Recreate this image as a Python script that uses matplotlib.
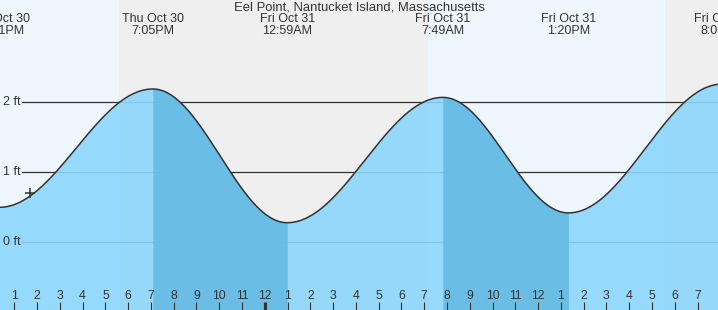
import numpy as np
import matplotlib
matplotlib.use("Agg")
import matplotlib.pyplot as plt
from matplotlib.transforms import blended_transform_factory

plt.rcParams['font.family'] = ['Liberation Sans', 'DejaVu Sans']

# ---- data (hours since Thu Oct 30 00:00) ----
title = "Eel Point, Nantucket Island, Massachusetts"
extreme_times = [12.35, 19.083, 24.983, 31.817, 37.333, 44.08]
extreme_heights = [0.50, 2.19, 0.28, 2.07, 0.42, 2.26]
extreme_labels = ["Thu Oct 30\n12:21PM", "Thu Oct 30\n7:05PM", "Fri Oct 31\n12:59AM",
                  "Fri Oct 31\n7:49AM", "Fri Oct 31\n1:20PM", "Fri Oct 31\n8:05PM"]
night_starts = [17.60, 41.59]
night_ends = [31.17, 50.0]
now_time = [13.69]
now_height = [0.71]
ytick_vals = [0, 1, 2]
ytick_labels = ["0 ft", "1 ft", "2 ft"]
hour_ticks = list(range(13, 44))
hour_labels = [str((h - 1) % 12 + 1) for h in hour_ticks]
midnight = 24

x_min, x_max = 12.372, 43.90
y_min, y_max = -0.967, 3.461

# ---- figure ----
fig = plt.figure(figsize=(7.18, 3.10), dpi=100)
ax = fig.add_axes([0, 0, 1, 1])
ax.set_xlim(x_min, x_max)
ax.set_ylim(y_min, y_max)
ax.set_facecolor('#eef7fe')
for s in ax.spines.values():
    s.set_visible(False)

for a, b in zip(night_starts, night_ends):
    ax.axvspan(a, b, color='#efefef', zorder=0, lw=0)

# grid lines
trans_y = blended_transform_factory(ax.transAxes, ax.transData)
for v, lab in zip(ytick_vals, ytick_labels):
    ax.plot([22 / 718, 1], [v, v], transform=trans_y, color='#333333', lw=0.9, zorder=1)
    ax.text(3 / 718, v, lab, transform=trans_y, ha='left', va='center',
            fontsize=9, color='#333333', zorder=5)

# tide curve: half-cosine between successive extremes
xs, ys = [], []
for i in range(len(extreme_times) - 1):
    t0, t1 = extreme_times[i], extreme_times[i + 1]
    h0, h1 = extreme_heights[i], extreme_heights[i + 1]
    t = np.linspace(t0, t1, 120)
    frac = (1 - np.cos(np.pi * (t - t0) / (t1 - t0))) / 2
    xs.append(t)
    ys.append(h0 + (h1 - h0) * frac)
xs = np.concatenate(xs)
ys = np.concatenate(ys)

light = (0.55, 0.84, 0.99, 0.9)
dark = (0.40, 0.735, 0.89, 0.9)
ax.fill_between(xs, ys, y_min, color=light, lw=0, zorder=2)
for i in range(len(extreme_times) - 1):
    if extreme_heights[i] > extreme_heights[i + 1]:
        m = (xs >= extreme_times[i]) & (xs <= extreme_times[i + 1])
        ax.fill_between(xs[m], ys[m], y_min, color=dark, lw=0, zorder=2)
ax.plot(xs, ys, color='#333333', lw=1.1, zorder=3)

ax.plot(now_time, now_height, marker='+', color='#333333', ms=6.5, mew=1.1,
        ls='none', zorder=4)

# labels of extremes
trans_x = blended_transform_factory(ax.transData, ax.transAxes)
for t, lab in zip(extreme_times, extreme_labels):
    ax.text(t, 1 - 25.5 / 310, lab, transform=trans_x, ha='center', va='center',
            fontsize=9, color='#333333', linespacing=1.0, zorder=5)
ax.text(0.5, 1 - 8 / 310, title, transform=ax.transAxes, ha='center', va='center',
        fontsize=9.4, color='#333333', zorder=5)

# hour ticks
ax.set_xticks(hour_ticks)
ax.set_xticklabels(hour_labels)
ax.set_yticks([])
ax.tick_params(axis='x', direction='in', length=5.8, width=0.8, color='#333333',
               pad=-14.7, labelsize=8.8, labelcolor='#333333')
for tk, h in zip(ax.xaxis.get_major_ticks(), hour_ticks):
    tk.tick1line.set_zorder(6)
    tk.label1.set_zorder(6)
    if h == midnight:
        tk.tick1line.set_markeredgewidth(2.3)
ax.set_axisbelow(False)

fig.savefig('out.png', dpi=100)
